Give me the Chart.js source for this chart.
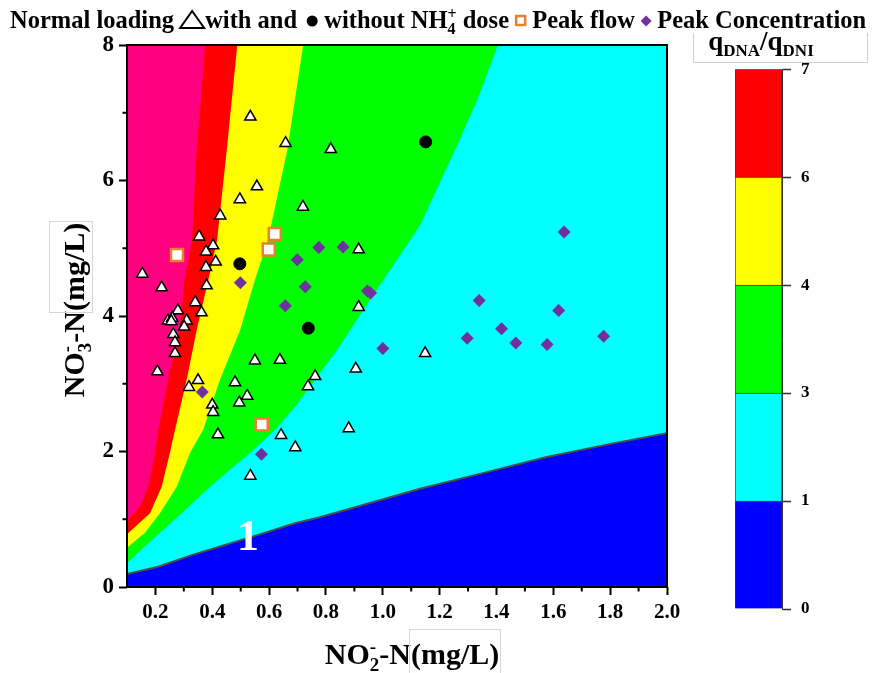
<!DOCTYPE html>
<html>
<head>
<meta charset="utf-8">
<script src="https://cdn.jsdelivr.net/npm/chart.js@4.4.0/dist/chart.umd.min.js"></script>
<style>
  body { margin: 0; background: #fff; }
  #wrap { position: relative; width: 878px; height: 673px; }
  #main { position: absolute; left: 0; top: 0; }
  #bar { position: absolute; left: 690px; top: 49px; }
</style>
</head>
<body>
<div id="wrap">
  <canvas id="main" width="878" height="673"></canvas>
  <canvas id="bar" width="188" height="581"></canvas>
</div>
<script>
// axis ticks
const xTicks = [0.2, 0.4, 0.6, 0.8, 1.0, 1.2, 1.4, 1.6, 1.8, 2.0];
const xMinor = [0.3, 0.5, 0.7, 0.9, 1.1, 1.3, 1.5, 1.7, 1.9];
const yTicks = [0, 2, 4, 6, 8];
const yMinor = [1, 3, 5, 7];

// contour edges, [NO2-N, NO3-N]
const magentaRedEdge = [[0.1,0.97],[0.146,1.19],[0.175,1.48],[0.199,1.98],[0.21,2.32],[0.245,3.06],[0.286,3.79],[0.302,4.53],[0.329,5.12],[0.345,6.45],[0.375,8]];
const redYellowEdge = [[0.1,0.78],[0.181,1.09],[0.222,1.48],[0.251,1.98],[0.269,2.32],[0.31,3.06],[0.345,3.79],[0.386,4.53],[0.417,5.12],[0.451,6.45],[0.488,8]];
const yellowGreenEdge = [[0.1,0.58],[0.163,0.8],[0.216,1.09],[0.275,1.48],[0.322,1.98],[0.368,2.32],[0.427,3.06],[0.498,3.79],[0.55,4.53],[0.596,5.12],[0.664,6.45],[0.72,8]];
const greenCyanEdge = [[0.1,0.35],[0.163,0.6],[0.216,0.8],[0.292,1.09],[0.392,1.48],[0.533,1.98],[0.621,2.32],[0.691,2.66],[0.839,3.5],[0.955,4.24],[1.061,4.9],[1.131,5.34],[1.254,6.45],[1.332,7.19],[1.405,8]];
const cyanBlueEdge = [[0.1,0.19],[0.21,0.3],[0.328,0.47],[0.445,0.62],[0.562,0.77],[0.691,0.94],[0.779,1.03],[1.131,1.45],[1.342,1.67],[1.577,1.92],[1.811,2.12],[2.0,2.27]];

// samples
const normalWithNH4 = [[0.534,6.94],[0.658,6.55],[0.817,6.46],[0.557,5.91],[0.497,5.72],[0.719,5.61],[0.428,5.48],[0.354,5.17],[0.403,5.04],[0.378,4.95],[0.915,4.98],[0.412,4.8],[0.378,4.72],[0.154,4.62],[0.222,4.42],[0.38,4.45],[0.34,4.2],[0.279,4.08],[0.362,4.05],[0.915,4.13],[0.244,3.93],[0.259,3.97],[0.256,3.92],[0.31,3.93],[0.301,3.84],[0.263,3.73],[0.269,3.61],[0.269,3.45],[0.207,3.18],[0.55,3.34],[0.638,3.35],[0.905,3.22],[0.762,3.11],[0.737,2.96],[0.35,3.05],[0.318,2.95],[0.48,3.02],[0.523,2.82],[0.495,2.72],[0.4,2.69],[0.403,2.58],[0.42,2.25],[0.642,2.24],[0.692,2.06],[0.88,2.34],[0.534,1.64],[1.149,3.45]];
const normalWithoutNH4 = [[0.497,4.77],[0.738,3.82],[1.151,6.57]];
const peakFlow = [[0.276,4.9],[0.62,5.21],[0.599,4.98],[0.574,2.4]];
const peakConc = [[0.775,5.01],[0.86,5.02],[0.699,4.83],[0.499,4.49],[0.727,4.43],[0.946,4.37],[0.957,4.34],[0.657,4.15],[0.365,2.88],[0.573,1.96],[1.0,3.52],[1.638,5.24],[1.339,4.23],[1.619,4.08],[1.418,3.81],[1.297,3.67],[1.468,3.6],[1.578,3.58],[1.777,3.7]];

// colour bar
const barLevels = ['0', '1', '3', '4', '6', '7'];
const barColors = ['#0000ff', '#00ffff', '#00ff00', '#ffff00', '#ff0000'];

const SERIF = '"Liberation Serif", "Times New Roman", serif';
Chart.defaults.font.family = SERIF;
Chart.defaults.font.weight = 'bold';
Chart.defaults.color = '#000';

const toXY = pts => pts.map(([x, y]) => ({x, y}));
const toTop = pts => toXY(pts.concat([[2.0, 8]]));

function region(pts, color, order, border){
  return {
    data: pts, order: order, fill: 'start', tension: 0,
    backgroundColor: color, pointRadius: 0,
    borderColor: border || 'transparent', borderWidth: border ? 2 : 0
  };
}

function markers(pts, style, radius, fill, stroke, width){
  return {
    data: toXY(pts), order: 0, showLine: false,
    pointStyle: style, pointRadius: radius, pointHoverRadius: radius,
    pointBackgroundColor: fill, pointBorderColor: stroke, pointBorderWidth: width
  };
}

// text with sub/superscripts: parts = [text, 'n' | 'sub' | 'sup' | 'supStack']
// returns [total width, start of last part, width of last part]
function drawRich(ctx, parts, x, y, size, align){
  const small = Math.round(size * 0.64);
  let w = 0, prevStart = 0, lastW = 0;
  const laid = parts.map(([t, k]) => {
    ctx.font = 'bold ' + (k === 'n' ? size : small) + 'px ' + SERIF;
    const tw = ctx.measureText(t).width;
    let start;
    if(k === 'supStack'){ start = prevStart; w = Math.max(w, start + tw); }
    else { start = w; w += tw; }
    prevStart = start; lastW = tw;
    return {t, k, start};
  });
  const x0 = align === 'left' ? x : x - w / 2;
  ctx.textAlign = 'left';
  ctx.textBaseline = 'alphabetic';
  laid.forEach(p => {
    ctx.font = 'bold ' + (p.k === 'n' ? size : small) + 'px ' + SERIF;
    let dy = 0;
    if(p.k === 'sub') dy = size * 0.24;
    if(p.k === 'sup' || p.k === 'supStack') dy = -size * 0.36;
    ctx.fillText(p.t, x0 + p.start, y + dy);
  });
  return [w, x0 + laid[laid.length - 1].start, lastW];
}

const decor = {
  id: 'decor',
  afterDraw(chart){
    const ctx = chart.ctx;
    const a = chart.chartArea;
    const xs = chart.scales.x, ys = chart.scales.y;
    ctx.save();
    ctx.strokeStyle = '#000';
    ctx.fillStyle = '#000';

    // frame + minor ticks
    ctx.lineWidth = 2;
    ctx.strokeRect(a.left, a.top, a.right - a.left, a.bottom - a.top);
    ctx.beginPath();
    xMinor.forEach(v => { const p = xs.getPixelForValue(v); ctx.moveTo(p, a.bottom); ctx.lineTo(p, a.bottom + 4.5); });
    yMinor.forEach(v => { const p = ys.getPixelForValue(v); ctx.moveTo(a.left, p); ctx.lineTo(a.left - 4.5, p); });
    ctx.stroke();

    // contour label
    ctx.fillStyle = '#fff';
    ctx.font = 'bold 44px ' + SERIF;
    ctx.textAlign = 'center';
    ctx.textBaseline = 'middle';
    ctx.fillText('1', xs.getPixelForValue(0.526), ys.getPixelForValue(0.74) + 2);

    // axis titles, with the faint box round "(mg/L)"
    ctx.fillStyle = '#000';
    const ts = 30;
    let r = drawRich(ctx, [['NO','n'],['2','sub'],['-','supStack'],['-N','n'],['(mg/L)','n']], 412, 664, ts, 'center');
    ctx.strokeStyle = '#d6d6d6';
    ctx.lineWidth = 1;
    ctx.strokeRect(Math.round(r[1]) - 1.5, 664 - ts - 4.5, Math.round(r[2]) + 3, 47);
    ctx.save();
    ctx.translate(84, 310);
    ctx.rotate(-Math.PI / 2);
    r = drawRich(ctx, [['NO','n'],['3','sub'],['-','supStack'],['-N','n'],['(mg/L)','n']], 0, 0, ts, 'center');
    ctx.strokeRect(Math.round(r[1]) - 1.5, -ts - 4.5, Math.round(r[2]) + 3, 43);
    ctx.restore();

    // top legend line
    ctx.fillStyle = '#000';
    ctx.strokeStyle = '#000';
    const by = 28, fs = 24.5;
    let x = 10;
    x += drawRich(ctx, [['Normal loading ','n']], x, by, fs, 'left')[0];
    ctx.lineWidth = 2;
    ctx.beginPath();
    ctx.moveTo(x + 12, 11); ctx.lineTo(x + 24, 28); ctx.lineTo(x, 28); ctx.closePath();
    ctx.stroke();
    x += 25;
    x += drawRich(ctx, [['with and ','n']], x, by, fs, 'left')[0];
    ctx.beginPath(); ctx.arc(x + 9, 21, 5.5, 0, Math.PI * 2); ctx.fill();
    x += 15;
    x += drawRich(ctx, [[' without NH','n'],['4','sub'],['+','supStack'],[' dose ','n']], x, by, fs, 'left')[0];
    ctx.strokeStyle = '#ed7d31';
    ctx.lineWidth = 2.5;
    ctx.strokeRect(x + 1, 16, 9, 9);
    x += 11;
    x += drawRich(ctx, [[' Peak flow ','n']], x, by, fs, 'left')[0];
    ctx.fillStyle = '#7030a0';
    ctx.beginPath();
    ctx.moveTo(x + 5, 15.5); ctx.lineTo(x + 10.5, 21); ctx.lineTo(x + 5, 26.5); ctx.lineTo(x - 0.5, 21); ctx.closePath();
    ctx.fill();
    x += 10;
    ctx.fillStyle = '#000';
    drawRich(ctx, [[' Peak Concentration','n']], x, by, fs, 'left');

    // colour bar title
    drawRich(ctx, [['q','n'],['DNA','sub'],['/q','n'],['DNI','sub']], 761, 50, 27, 'center');
    ctx.strokeStyle = '#cfcfcf';
    ctx.lineWidth = 1;
    ctx.beginPath();
    ctx.moveTo(693.5, 33); ctx.lineTo(693.5, 62.5); ctx.lineTo(867.5, 62.5); ctx.lineTo(867.5, 33);
    ctx.stroke();
    ctx.restore();
  }
};

new Chart(document.getElementById('main'), {
  type: 'line',
  data: {
    datasets: [
      markers(normalWithNH4, 'triangle', 6.5, '#ffffff', '#000000', 1.5),
      markers(normalWithoutNH4, 'circle', 6, '#000000', '#000000', 1),
      markers(peakFlow, 'rect', 8.5, '#ffffff', '#ed7d31', 2.5),
      markers(peakConc, 'rectRot', 6.5, '#7030a0', '#7030a0', 0),
      region(toXY(cyanBlueEdge), '#0000ff', 1, '#4d4d4d'),
      region(toTop(greenCyanEdge), '#00ffff', 2),
      region(toTop(yellowGreenEdge), '#00ff00', 3),
      region(toTop(redYellowEdge), '#ffff00', 4),
      region(toTop(magentaRedEdge), '#ff0000', 5),
      region(toXY([[0.1, 8], [2.0, 8]]), '#ff0080', 6)
    ]
  },
  options: {
    responsive: false,
    animation: false,
    layout: { padding: { left: 0, top: 45, right: 211, bottom: 0 } },
    plugins: { legend: { display: false }, tooltip: { enabled: false } },
    scales: {
      x: {
        type: 'linear', min: 0.1, max: 2.0,
        afterBuildTicks: s => { s.ticks = xTicks.map(v => ({value: v})); },
        afterFit: s => { s.height = 86; },
        grid: { drawOnChartArea: false, tickLength: 8, tickWidth: 2, color: '#000' },
        border: { display: false },
        ticks: { padding: 5, maxRotation: 0, autoSkip: false, font: { size: 21 }, callback: v => v.toFixed(1) }
      },
      y: {
        min: 0, max: 8,
        afterBuildTicks: s => { s.ticks = yTicks.map(v => ({value: v})); },
        afterFit: s => { s.width = 127; },
        grid: { drawOnChartArea: false, tickLength: 8, tickWidth: 2, color: '#000' },
        border: { display: false },
        ticks: { padding: 5, font: { size: 23 }, callback: v => String(v) }
      }
    }
  },
  plugins: [decor]
});

new Chart(document.getElementById('bar'), {
  type: 'bar',
  data: {
    labels: [''],
    datasets: barColors.map(c => ({
      data: [1], backgroundColor: c, borderColor: '#3a3a3a', borderWidth: 1,
      barPercentage: 1, categoryPercentage: 1
    }))
  },
  options: {
    responsive: false,
    animation: false,
    layout: { padding: { left: 45, top: 0, right: 0, bottom: 21 } },
    plugins: { legend: { display: false }, tooltip: { enabled: false } },
    scales: {
      x: { stacked: true, display: false },
      y: {
        stacked: true, position: 'right', min: 0, max: 5,
        afterFit: s => { s.width = 96; },
        grid: { drawOnChartArea: false, tickLength: 9, tickWidth: 1.5, color: '#333' },
        border: { color: '#333', width: 1 },
        ticks: { stepSize: 1, padding: 10, font: { size: 17 }, callback: v => barLevels[v] }
      }
    }
  }
});
</script>
</body>
</html>
